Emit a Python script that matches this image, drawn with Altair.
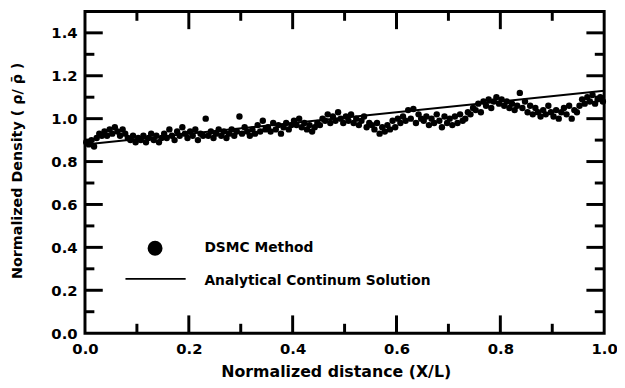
import altair as alt
import pandas as pd

# ---- data ----
dsmc_density = [
    0.89, 0.88, 0.90, 0.87, 0.91, 0.93, 0.92, 0.94, 0.92, 0.95,
    0.93, 0.96, 0.94, 0.92, 0.95, 0.93, 0.91, 0.90, 0.92, 0.89,
    0.91, 0.90, 0.92, 0.89, 0.91, 0.93, 0.90, 0.92, 0.89, 0.91,
    0.93, 0.91, 0.95, 0.92, 0.90, 0.94, 0.92, 0.96, 0.93, 0.91,
    0.94, 0.92, 0.95, 0.90, 0.93, 0.92, 1.00, 0.92, 0.94, 0.91,
    0.93, 0.95, 0.92, 0.94, 0.91, 0.93, 0.95, 0.92, 0.94, 1.01,
    0.93, 0.96, 0.94, 0.92, 0.95, 0.93, 0.97, 0.94, 0.99, 0.95,
    0.96, 0.94, 0.98, 0.95, 0.97, 0.93, 0.96, 0.98, 0.95, 0.97,
    0.99, 0.97, 1.00, 0.96, 0.98, 0.95, 0.97, 0.94, 0.96, 0.98,
    0.97, 1.00, 0.99, 1.02, 0.98, 1.01, 0.99, 1.03, 1.00, 0.98,
    1.01, 0.99, 1.02, 0.98, 1.00, 0.97, 0.99, 1.01, 0.96, 0.98,
    0.97, 0.95, 0.98, 0.93, 0.96, 0.94, 0.97, 0.95, 0.99, 0.96,
    1.00, 0.98, 1.01, 0.99, 1.04, 1.00, 1.045, 0.98, 1.02, 1.00,
    0.99, 1.01, 0.97, 1.00, 0.98, 1.02, 0.99, 0.96, 1.01, 0.98,
    1.00, 0.97, 1.01, 0.98, 1.02, 0.99, 1.00, 1.03, 1.02, 1.05,
    1.04, 1.07, 1.03, 1.08, 1.06, 1.09, 1.05, 1.08, 1.10, 1.07,
    1.09, 1.06, 1.08, 1.05, 1.07, 1.04, 1.06, 1.12, 1.05, 1.08,
    1.03, 1.06, 1.02, 1.05, 1.03, 1.01, 1.04, 1.02, 1.06, 1.03,
    1.01, 1.04, 1.00, 1.03, 1.05, 1.02, 1.06, 1.00, 1.04, 1.03,
    1.06, 1.09, 1.07, 1.10, 1.08, 1.11, 1.07, 1.09, 1.10, 1.08,
]
n_cells = len(dsmc_density)
dsmc_x = [(i + 0.5) / n_cells for i in range(n_cells)]  # uniform DSMC cell centres

analytic_x = [0.0, 1.0]
analytic_y = [0.88, 1.13]

x_label_values = [0.0, 0.2, 0.4, 0.6, 0.8, 1.0]
y_label_values = [0.0, 0.2, 0.4, 0.6, 0.8, 1.0, 1.2, 1.4]
x_major_ticks = [0.2, 0.4, 0.6, 0.8]
x_minor_ticks = [0.1, 0.3, 0.5, 0.7, 0.9]
y_major_ticks = [0.2, 0.4, 0.6, 0.8, 1.0, 1.2, 1.4]
y_minor_ticks = [0.1, 0.3, 0.5, 0.7, 0.9, 1.1, 1.3]

legend_labels = ["DSMC Method", "Analytical Continum Solution"]

# ---- layout / style ----
W, H = 526, 326
X_DOM, Y_DOM = [0.0, 1.0], [0.0, 1.5]
FONT = "DejaVu Sans"
xs = alt.Scale(domain=X_DOM, nice=False, zero=False)
ys = alt.Scale(domain=Y_DOM, nice=False, zero=False)

# tick lengths expressed in data units of each scale
maj_y, min_y = 18 / H * 1.5, 9.5 / H * 1.5
maj_x, min_x = 18 / W, 9.5 / W

x_axis = alt.Axis(
    values=x_label_values, format=".1f", grid=False, domain=False, ticks=False,
    tickSize=0, labelFont=FONT, labelFontWeight="bold", labelFontSize=15,
    labelColor="black", labelPadding=9, labelFlush=False, labelOverlap=False,
    title="Normalized distance (X/L)", titleFont=FONT, titleFontWeight="bold",
    titleFontSize=16, titleColor="black", titleX=254, titleY=39,
    titleAlign="center", titleBaseline="middle",
)
y_axis = alt.Axis(
    values=y_label_values, format=".1f", grid=False, domain=False, ticks=False,
    tickSize=0, labelFont=FONT, labelFontWeight="bold", labelFontSize=15,
    labelColor="black", labelPadding=8, labelFlush=False, labelOverlap=False,
    title="Normalized Density ( \u03c1/ \u03c1\u0304 )", titleFont=FONT,
    titleFontWeight="bold", titleFontSize=14.5, titleColor="black",
    titleX=-68, titleY=161, titleAlign="center", titleBaseline="middle",
    titleAngle=270,
)

dsmc_df = pd.DataFrame({"x": dsmc_x, "density": dsmc_density})
line_df = pd.DataFrame({"x": analytic_x, "density": analytic_y})

points = alt.Chart(dsmc_df).mark_circle(size=42, color="black", opacity=1).encode(
    x=alt.X("x:Q", scale=xs, axis=x_axis),
    y=alt.Y("density:Q", scale=ys, axis=y_axis),
)
line = alt.Chart(line_df).mark_line(color="black", strokeWidth=2).encode(
    x=alt.X("x:Q", scale=xs, axis=x_axis),
    y=alt.Y("density:Q", scale=ys, axis=y_axis),
)


def xticks(vals, y0, y1):
    return alt.Chart(pd.DataFrame({"x": vals})).mark_rule(
        color="black", strokeWidth=3).encode(
        x=alt.X("x:Q", scale=xs, axis=x_axis),
        y=alt.Y(datum=y0, scale=ys, axis=y_axis),
        y2=alt.Y2(datum=y1),
    )


def yticks(vals, x0, x1):
    return alt.Chart(pd.DataFrame({"density": vals})).mark_rule(
        color="black", strokeWidth=3).encode(
        y=alt.Y("density:Q", scale=ys, axis=y_axis),
        x=alt.X(datum=x0, scale=xs, axis=x_axis),
        x2=alt.X2(datum=x1),
    )


tick_layers = [
    xticks(x_major_ticks, 0.0, maj_y), xticks(x_minor_ticks, 0.0, min_y),
    xticks(x_major_ticks, 1.5, 1.5 - maj_y), xticks(x_minor_ticks, 1.5, 1.5 - min_y),
    yticks(y_major_ticks, 0.0, maj_x), yticks(y_minor_ticks, 0.0, min_x),
    yticks(y_major_ticks, 1.0, 1.0 - maj_x), yticks(y_minor_ticks, 1.0, 1.0 - min_x),
]

# ---- hand-placed legend ----
leg1 = pd.DataFrame({"label": [legend_labels[0]]})
leg2 = pd.DataFrame({"label": [legend_labels[1]]})
leg_sym = alt.Chart(leg1).mark_circle(size=230, color="black", opacity=1).encode(
    x=alt.value(71), y=alt.value(240))
leg_line = alt.Chart(leg2).mark_rule(color="black", strokeWidth=2).encode(
    x=alt.value(41), x2=alt.value(102), y=alt.value(271))
leg_txt1 = alt.Chart(leg1).mark_text(
    align="left", baseline="middle", font=FONT, fontWeight="bold", fontSize=14,
    color="black").encode(x=alt.value(121), y=alt.value(240), text="label:N")
leg_txt2 = alt.Chart(leg2).mark_text(
    align="left", baseline="middle", font=FONT, fontWeight="bold", fontSize=14,
    color="black").encode(x=alt.value(121), y=alt.value(273), text="label:N")

chart = alt.layer(
    points, line, *tick_layers, leg_sym, leg_line, leg_txt1, leg_txt2
).properties(
    width=W, height=H,
    autosize=alt.AutoSizeParams(type="none"),
    padding={"left": 78, "top": 1, "right": 13, "bottom": 45},
    background="white",
).configure_view(
    stroke="black", strokeWidth=3
)

chart.save("out.html", embed_options={"renderer": "svg", "actions": False})
